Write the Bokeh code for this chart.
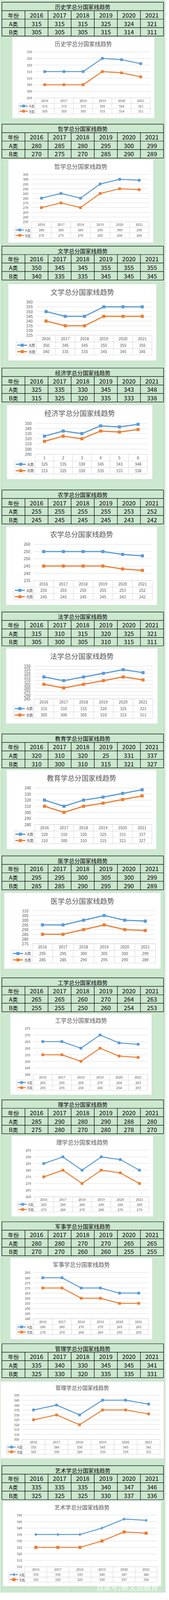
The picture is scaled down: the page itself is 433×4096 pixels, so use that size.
from bokeh.plotting import figure
from bokeh.models import Range1d
from bokeh.core.properties import value
from bokeh.embed import file_html
from bokeh.resources import INLINE

# ---------------- data ----------------
years = ["2016", "2017", "2018", "2019", "2020", "2021"]
econ_chart_categories = ["1", "2", "3", "4", "5", "6"]
subjects = ["历史学", "哲学", "文学", "经济学", "农学", "法学", "教育学",
            "医学", "工学", "理学", "军事学", "管理学", "艺术学"]

history_A = [315, 315, 315, 325, 324, 321]
history_B = [305, 305, 305, 315, 314, 311]
philosophy_A = [280, 285, 280, 295, 300, 299]
philosophy_B = [270, 275, 270, 285, 290, 289]
literature_A = [350, 345, 345, 355, 355, 355]
literature_B = [340, 335, 335, 345, 345, 345]
economics_A = [325, 335, 330, 345, 343, 348]
economics_B = [315, 325, 320, 335, 333, 338]
agriculture_A = [255, 255, 255, 255, 253, 252]
agriculture_B = [245, 245, 245, 245, 243, 242]
law_A = [315, 310, 315, 320, 325, 321]
law_B = [305, 300, 305, 310, 315, 311]
education_A = [320, 310, 320, 325, 331, 337]
education_B = [310, 300, 310, 315, 321, 327]
education_A_table_text = ["320", "310", "320", "25", "331", "337"]
medicine_A = [295, 295, 300, 305, 300, 299]
medicine_B = [285, 285, 290, 295, 290, 289]
engineering_A = [265, 265, 260, 270, 264, 263]
engineering_B = [255, 255, 250, 260, 254, 253]
science_A = [285, 290, 280, 290, 288, 280]
science_B = [275, 280, 270, 280, 278, 270]
military_A = [280, 280, 270, 270, 265, 265]
military_B = [270, 270, 260, 260, 255, 255]
management_A = [335, 340, 330, 345, 345, 341]
management_B = [325, 330, 320, 335, 335, 331]
art_A = [335, 335, 335, 340, 347, 346]
art_B = [325, 325, 325, 330, 337, 336]

series_A = [history_A, philosophy_A, literature_A, economics_A, agriculture_A, law_A,
            education_A, medicine_A, engineering_A, science_A, military_A, management_A, art_A]
series_B = [history_B, philosophy_B, literature_B, economics_B, agriculture_B, law_B,
            education_B, medicine_B, engineering_B, science_B, military_B, management_B, art_B]

y_axis_min = [295, 255, 325, 290, 235, 285, 280, 275, 240, 260, 240, 305, 310]
y_axis_max = [330, 305, 360, 350, 260, 330, 340, 310, 275, 295, 285, 350, 350]
y_axis_step = [5, 5, 5, 10, 5, 5, 10, 5, 5, 5, 5, 5, 5]

# ---------------- layout (reference pixels) ----------------
RW, RH = 616, 5824
W, H = 424, 4077
FS = 0.69
FONT = "Noto Sans CJK SC"
GREEN = "#CCE8CF"
GRAY_T = "#595959"
GRID = "#D9D9D9"
BLUE = "#5B9BD5"
ORANGE = "#ED7D31"

TABLE_TOP = [7.3, 453.3, 899.3, 1345.3, 1791.3, 2237.3, 2683.3, 3129.3,
             3575.3, 4021.3, 4467.3, 4913.3, 5359.3]
CHART_BOX = [(45, 574, 135, 431.7), (30, 570, 583, 886.7), (30, 581.5, 1038, 1317.7),
             (25, 566.6, 1480.7, 1751.3), (22, 584, 1924.7, 2211.7), (22, 586, 2370, 2645.7),
             (24, 581.5, 2815, 3105), (15, 597, 3264.3, 3542), (37.7, 564, 3707, 4003),
             (41.6, 569, 4153, 4448), (37.7, 566, 4600, 4896.7), (2, 609, 5051.7, 5332.7),
             (10, 599, 5488.7, 5800)]
PLOT = [(130, 559, 188.7, 357.3), (117, 554, 637.7, 810.3), (134.8, 564.6, 1104, 1225.3),
        (129.7, 548, 1547.3, 1660.3), (125, 566, 1989.7, 2122.3), (125.7, 568.6, 2435, 2555),
        (128.5, 564.6, 2880.7, 3014.7), (119, 578.4, 3330, 3450.3), (123, 549, 3760.3, 3928.7),
        (126.5, 554, 4205.7, 4376), (123, 551.3, 4653.3, 4821.7), (81.3, 595.3, 5101.7, 5263.3),
        (91.5, 584.3, 5540.3, 5728.7)]
ROWS = [(357.3, 377.3, 396.7, 415.3), (810.3, 830.3, 850.3, 870), (1225.3, 1249.7, 1273.7, 1297),
        (1660.3, 1685.3, 1708.7, 1732.3), (2122.3, 2146.3, 2170, 2193), (2555, 2578.7, 2602.3, 2625.7),
        (3014.7, 3038.3, 3061.7, 3084.3), (3450.3, 3474.3, 3498, 3521), (3928.7, 3948.7, 3967.3, 3986.3),
        (4376, 4394, 4413, 4431.3), (4821.7, 4842.3, 4861.3, 4880), (5263.3, 5282.3, 5300, 5317.3),
        (5728.7, 5748.3, 5766.7, 5785)]
LEG = [68.4, 53.8, 59, 53.8, 50.3, 50.3, 52.3, 43.2, 61, 64.8, 61, 23.6, 32.2]
LAB = [119, 105, 121, 116.7, 112, 112.8, 114.7, 105.3, 112, 115, 112, 71.5, 81.7]
TITLE_Y = [158.3, 606, 1067, 1509.7, 1952.3, 2397.3, 2843.3, 3292.7, 3730.3, 4175.3,
           4622.3, 5073.3, 5511]
TITLE_EM = [21.1, 21.9, 26.3, 26.2, 26.0, 26.3, 25.8, 26.2, 21.5, 21.4, 21.2, 19.8, 20.4]
AX_EM = [12.2, 12.2, 14.8, 14.8, 14.8, 14.8, 14.8, 14.8, 12.2, 12.2, 12.2, 12.2, 12.2]
BIG = [False, False, True, True, True, True, True, True, False, False, False, False, False]

p = figure(width=W, height=H, x_range=Range1d(0, RW), y_range=Range1d(RH, 0),
           output_backend="svg", toolbar_location=None, min_border=0,
           x_axis_location=None, y_axis_location=None,
           background_fill_color=GREEN, border_fill_color=GREEN, outline_line_color=None)
p.xgrid.grid_line_color = None
p.ygrid.grid_line_color = None
p.title.visible = False


def seg(x0, y0, x1, y1, color, lw, **kw):
    p.segment(x0=x0, y0=y0, x1=x1, y1=y1, line_color=color, line_width=lw, **kw)


def txt(x, y, texts, size, color, align="center", **kw):
    p.text(x=x, y=y, text=texts, text_font=value(FONT), text_font_size=f"{size:.1f}px",
           text_color=color, text_align=align, text_baseline="middle", **kw)


# faint sheet lines
seg([6.3, 608], [0, 0], [6.3, 608], [RH, RH], "#B9D4BC", 0.8)

TX0, TX1 = 6.3, 608.0
TROW = 31.0
tcw = (TX1 - TX0) / 7.0
col_cx = [TX0 + (c + 0.5) * tcw for c in range(7)]

for i in range(13):
    A = series_A[i]
    B = series_B[i]
    # ---------- top table ----------
    T = TABLE_TOP[i]
    ys = [T + r * TROW for r in range(5)]
    seg([TX0] * 5, ys, [TX1] * 5, ys, "black", 1.2)
    seg([TX0, TX1], [T, T], [TX0, TX1], [T + 4 * TROW] * 2, "black", 1.2)
    inner = [TX0 + c * tcw for c in range(1, 7)]
    seg(inner, [T + TROW] * 6, inner, [T + 4 * TROW] * 6, "black", 1.2)
    txt([(TX0 + TX1) / 2], [T + TROW / 2 + 1], [subjects[i] + "总分国家线趋势"], 14.2, "black")
    txt([col_cx[0]], [T + 1.5 * TROW + 1], ["年份"], 14.2, "black")
    txt(col_cx[1:], [T + 1.5 * TROW + 1] * 6, years, 15.5, "black")
    txt([col_cx[0]], [T + 2.5 * TROW + 1], ["A类"], 14.2, "black")
    a_txt = education_A_table_text if i == 6 else [str(v) for v in A]
    txt(col_cx[1:], [T + 2.5 * TROW + 1] * 6, a_txt, 15.5, "black")
    txt([col_cx[0]], [T + 3.5 * TROW + 1], ["B类"], 14.2, "black")
    txt(col_cx[1:], [T + 3.5 * TROW + 1] * 6, [str(v) for v in B], 15.5, "black")

    # ---------- chart box ----------
    bx0, bx1, by0, by1 = CHART_BOX[i]
    p.quad(left=[bx0], right=[bx1], top=[by0], bottom=[by1], fill_color="white",
           line_color="#E2E2E2", line_width=0.8)
    txt([(bx0 + bx1) / 2], [TITLE_Y[i]], [subjects[i] + "总分国家线趋势"],
        TITLE_EM[i] * FS, GRAY_T)

    px0, px1, yt, yb = PLOT[i]
    vmin, vmax, step = y_axis_min[i], y_axis_max[i], y_axis_step[i]
    k = (yb - yt) / (vmax - vmin)
    yr = f"y{i}"
    xr = f"x{i}"
    p.extra_y_ranges[yr] = Range1d(vmax - (RH - yt) / k, vmax + yt / k)
    cw = (px1 - px0) / 6.0
    p.extra_x_ranges[xr] = Range1d(-px0 / cw - 0.5, (RW - px0) / cw - 0.5)

    ticks = list(range(vmin, vmax + 1, step))
    n = len(ticks)
    em = AX_EM[i]
    fpx = em * FS
    seg([px0] * n, ticks, [px1] * n, ticks, GRID, 0.9, y_range_name=yr)
    txt([LAB[i]] * n, ticks, [str(t) for t in ticks], fpx, GRAY_T, align="right",
        y_range_name=yr)

    # ---------- data table ----------
    r0, r1, r2, r3 = ROWS[i]
    leg = LEG[i]
    seg([px0, leg, leg, leg], [r0, r1, r2, r3], [px1] * 4, [r0, r1, r2, r3], GRID, 1.1)
    vx = [px0 + c * cw for c in range(7)]
    seg(vx, [r0] * 7, vx, [r3] * 7, GRID, 1.1)
    seg([leg], [r1], [leg], [r3], GRID, 1.1)

    cats = econ_chart_categories if i == 3 else years
    idx = list(range(6))
    txt(idx, [(r0 + r1) / 2] * 6, cats, fpx, GRAY_T, x_range_name=xr)
    txt(idx, [(r1 + r2) / 2] * 6, [str(v) for v in A], fpx, GRAY_T, x_range_name=xr)
    txt(idx, [(r2 + r3) / 2] * 6, [str(v) for v in B], fpx, GRAY_T, x_range_name=xr)

    lw = 3.0 if BIG[i] else 2.5
    ms = 7.0 if BIG[i] else 6.0
    a_marker = "diamond" if i == 12 else "square"
    a_ms = 8.0 if i == 12 else ms
    b_ms = 7.0 if i == 12 else ms

    # legend keys
    lx0 = leg + 0.28 * em
    lx1 = lx0 + 2.52 * em
    for yc, col, mk, sz, lab in [((r1 + r2) / 2, BLUE, a_marker, a_ms, "A类"),
                                 ((r2 + r3) / 2, ORANGE, "square", b_ms, "B类")]:
        seg([lx0], [yc], [lx1], [yc], col, lw)
        p.scatter(x=[(lx0 + lx1) / 2], y=[yc], marker=mk, size=sz, fill_color=col, line_color=col)
        txt([leg + 3.22 * em], [yc], [lab], fpx, GRAY_T, align="left")

    # ---------- series ----------
    p.line(x=idx, y=A, line_color=BLUE, line_width=lw, line_join="round",
           x_range_name=xr, y_range_name=yr)
    p.scatter(x=idx, y=A, marker=a_marker, size=a_ms, fill_color=BLUE, line_color=BLUE,
              x_range_name=xr, y_range_name=yr)
    p.line(x=idx, y=B, line_color=ORANGE, line_width=lw, line_join="round",
           x_range_name=xr, y_range_name=yr)
    p.scatter(x=idx, y=B, marker="square", size=b_ms, fill_color=ORANGE, line_color=ORANGE,
              x_range_name=xr, y_range_name=yr)

# bottom sheet gridlines and watermark
bx = [TX0 + c * tcw for c in range(1, 7)]
seg(bx, [5800] * 6, bx, [RH] * 6, "#BFD3C1", 0.8)
seg([TX0], [5806], [TX1], [5806], "#BFD3C1", 0.8)
txt([357], [5803], ["百家号/新文道教育"], 19.0, "white", align="left", text_alpha=0.9)

open("out.html", "w").write(file_html(p, INLINE))
